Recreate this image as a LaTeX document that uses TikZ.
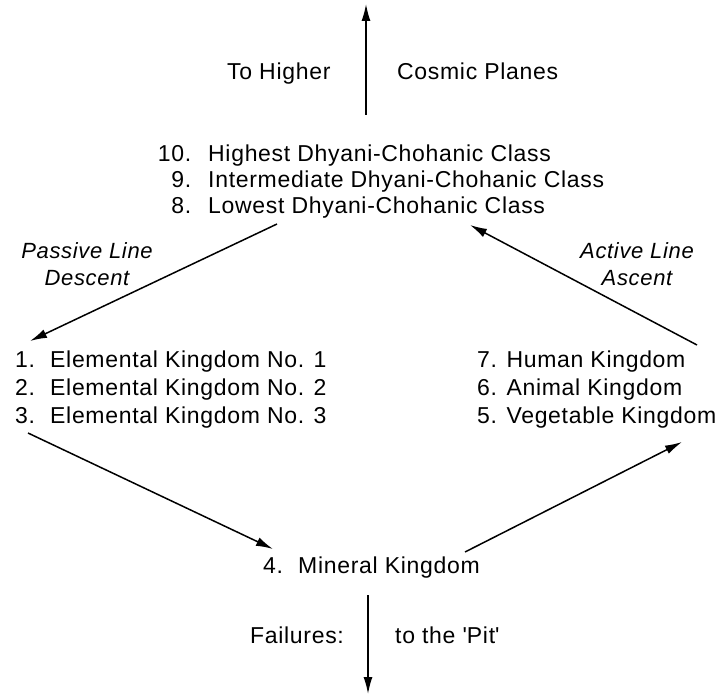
\documentclass[tikz,border=0pt]{standalone}
\usepackage{fontspec}
\setmainfont{Liberation Sans}[LetterSpace=3]
\usetikzlibrary{arrows.meta}
\begin{document}
\begin{tikzpicture}[x=1pt,y=-1pt,
  txt/.style={anchor=base west,inner sep=0pt,font=\fontsize{23}{27}\selectfont},
  ctxt/.style={anchor=base,inner sep=0pt,font=\fontsize{22}{26}\selectfont\itshape},
  conn/.style={line width=1.5pt,-{Latex[length=17pt,width=9pt]}}]
\useasboundingbox (0,0) rectangle (722,695);
% top
\node[txt] (toh) at (227,80) {To Higher};
\node[txt] (cos) at (397,80) {Cosmic Planes};
\coordinate (tops) at (366,115);
\coordinate (tope) at (366,4);
\draw[conn] (tops) -- (tope);
% Dhyani classes
\node[txt] (c10) at (153,161) {\makebox[38pt][r]{10.}\hspace{17pt}Highest Dhyani-Chohanic Class};
\node[txt] (c9) at (153,187) {\makebox[38pt][r]{9.}\hspace{17pt}Intermediate Dhyani-Chohanic Class};
\node[txt] (c8) at (153,213) {\makebox[38pt][r]{8.}\hspace{17pt}Lowest Dhyani-Chohanic Class};
% side labels
\node[ctxt] (pl) at (87,258) {Passive Line};
\node[ctxt] (pd) at (87,285) {Descent};
\node[ctxt] (al) at (637,258) {Active Line};
\node[ctxt] (aa) at (637,285) {Ascent};
% left list
\node[txt] (e1) at (15,367) {\makebox[35pt][l]{1.}Elemental Kingdom No. 1};
\node[txt] (e2) at (15,395) {\makebox[35pt][l]{2.}Elemental Kingdom No. 2};
\node[txt] (e3) at (15,423) {\makebox[35pt][l]{3.}Elemental Kingdom No. 3};
% right list
\node[txt] (k7) at (477,367) {7. Human Kingdom};
\node[txt] (k6) at (477,395) {6. Animal Kingdom};
\node[txt] (k5) at (477,423) {5. Vegetable Kingdom};
% mineral
\node[txt] (m4) at (263,573) {\makebox[35pt][l]{4.}Mineral Kingdom};
% bottom
\node[txt] (fail) at (250,643) {Failures:};
\node[txt] (pit) at (395,643) {to the \textquotesingle Pit\textquotesingle};
% connectors
\coordinate (ls) at (277,224);
\coordinate (le) at (30,341);
\coordinate (rs) at (697,345);
\coordinate (re) at (470,225);
\coordinate (lls) at (28,433);
\coordinate (lle) at (273,549);
\coordinate (lrs) at (465,552);
\coordinate (lre) at (682,442);
\coordinate (bs) at (368,595);
\coordinate (be) at (368,694);
\draw[conn] (ls) -- (le);
\draw[conn] (rs) -- (re);
\draw[conn] (lls) -- (lle);
\draw[conn] (lrs) -- (lre);
\draw[conn] (bs) -- (be);
\end{tikzpicture}
\end{document}
